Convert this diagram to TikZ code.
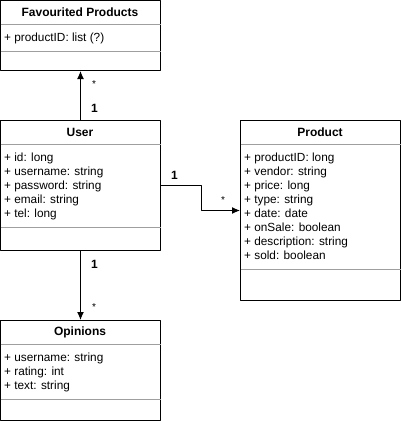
\documentclass[tikz,border=0pt]{standalone}
\usepackage{fontspec}
\setmainfont{Liberation Sans}
\usetikzlibrary{arrows.meta}

\tikzset{
  classbox/.style={draw=black, line width=1pt, rectangle, inner sep=0pt, minimum width=160pt},
  classtitle/.style={font=\fontsize{12}{14}\selectfont\bfseries, anchor=center, inner sep=0pt},
  attr/.style={font=\fontsize{11.8}{14}\selectfont, anchor=west, inner sep=0pt, text height=8.5pt, text depth=2.5pt},
  sepline/.style={color=gray!75, line width=1pt},
  assoc/.style={-{Latex[length=8pt,width=7pt]}, line width=1pt},
  multone/.style={font=\fontsize{12}{14}\selectfont\bfseries, anchor=west, inner sep=0pt},
  multmany/.style={font=\fontsize{10}{12}\selectfont, anchor=west, inner sep=0pt}
}

\begin{document}
\begin{tikzpicture}[x=1pt,y=-1pt,line join=round]
  \useasboundingbox (0,0) rectangle (401,421);

%class boxes
  \node[classbox, minimum height=70pt] (fav) at (80.5,35.5) {};
  \node[classbox, minimum height=130pt] (user) at (80.5,185.5) {};
  \node[classbox, minimum height=180pt] (prod) at (320.5,210.5) {};
  \node[classbox, minimum height=100pt] (opin) at (80.5,370.5) {};

%titles
  \node[classtitle] (fav-t) at (80,12) {Favourited Products};
  \node[classtitle] (user-t) at (80,132) {User};
  \node[classtitle] (prod-t) at (320,132) {Product};
  \node[classtitle] (opin-t) at (80,332) {Opinions};

%separators
  \draw[sepline] (0.5,24.5) -- (160.5,24.5);
  \draw[sepline] (0.5,51.5) -- (160.5,51.5);
  \draw[sepline] (0.5,144.5) -- (160.5,144.5);
  \draw[sepline] (0.5,227.5) -- (160.5,227.5);
  \draw[sepline] (240.5,144.5) -- (400.5,144.5);
  \draw[sepline] (240.5,269.5) -- (400.5,269.5);
  \draw[sepline] (0.5,344.5) -- (160.5,344.5);
  \draw[sepline] (0.5,399.5) -- (160.5,399.5);

%attributes
  \node[attr] (fav-a0) at (4,38) {+ productID: list (?)};
  \foreach \t [count=\i from 0] in {+ id: long, + username: string, + password: string, + email: string, + tel: long}
    \node[attr] (user-a\i) at (4,158+14*\i) {\t};
  \foreach \t [count=\i from 0] in {+ productID: long, + vendor: string, + price: long, + type: string, + date: date, + onSale: boolean, + description: string, + sold: boolean}
    \node[attr] (prod-a\i) at (244,158+14*\i) {\t};
  \foreach \t [count=\i from 0] in {+ username: string, + rating: int, + text: string}
    \node[attr] (opin-a\i) at (4,358+14*\i) {\t};

%associations
  \draw[assoc] (user.north) -- (fav.south);
  \draw[assoc] (user.east) -- ++(40,0) |- (prod.west);
  \draw[assoc] (user.south) -- (opin.south |- opin.north);

%multiplicities
  \node[multmany] (m-fav) at (92,84) {*};
  \node[multone] (m-fav1) at (91,108) {1};
  \node[multone] (m-prod1) at (171,175) {1};
  \node[multmany] (m-prod) at (221,200) {*};
  \node[multone] (m-opin1) at (91,264) {1};
  \node[multmany] (m-opin) at (92,307) {*};
\end{tikzpicture}
\end{document}
